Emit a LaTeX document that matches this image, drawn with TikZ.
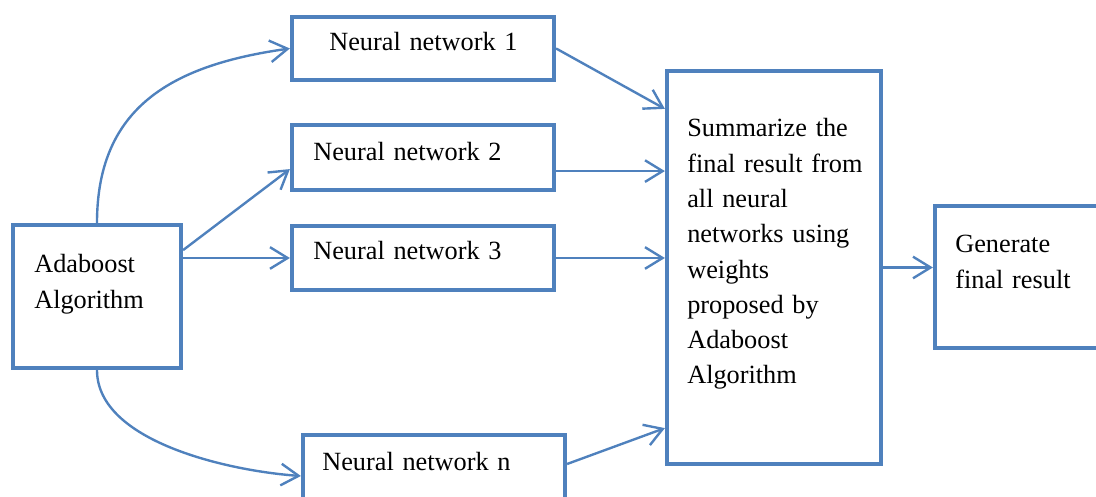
\documentclass[tikz,border=0pt]{standalone}
\usepackage{fontspec}
\setmainfont{Liberation Serif}
\usetikzlibrary{calc,arrows.meta}
\definecolor{wordblue}{RGB}{79,129,189}
\tikzset{
  blk/.style={draw=wordblue, line width=3pt},
  lbl/.style={anchor=base west, inner sep=0pt, text width=#1, align=left,
    font=\fontsize{18.7pt}{25.1pt}\selectfont},
  lbl/.default=6cm,
  arr/.style={draw=wordblue, line width=1.7pt, -{Straight Barb[length=4.4mm,width=5.4mm]}}
}

\begin{document}
\begin{tikzpicture}
		%%%%% START %%%%%
		\useasboundingbox (0,0) rectangle (27.4,12.425);
		\clip (0,0) rectangle (27.4,12.425);
		
		% boxes
		\node[blk, minimum width=4.2cm, minimum height=3.575cm] (ada) at (2.425,5.0125) {};
		\node[blk, minimum width=6.55cm, minimum height=1.575cm] (nn1) at (10.575,11.2125) {};
		\node[blk, minimum width=6.55cm, minimum height=1.625cm] (nn2) at (10.575,8.4875) {};
		\node[blk, minimum width=6.55cm, minimum height=1.6cm] (nn3) at (10.575,5.975) {};
		\node[blk, minimum width=6.55cm, minimum height=2.05cm] (nnn) at (10.85,0.525) {};
		\node[blk, minimum width=5.35cm, minimum height=9.825cm] (summ) at (19.35,5.7375) {};
		\node[blk, minimum width=4.5cm, minimum height=3.55cm] (gen) at (25.625,5.5) {};
		
		% texts
		\node[lbl=4cm] (adatxt) at (0.85,5.6) {Adaboost\\Algorithm};
		\node[lbl] (nn1txt) at (8.225,11.15) {Neural network 1};
		\node[lbl] (nn2txt) at (7.825,8.4) {Neural network 2};
		\node[lbl] (nn3txt) at (7.825,5.925) {Neural network 3};
		\node[lbl] (nnntxt) at (8.05,0.65) {Neural network n};
		\node[lbl=5cm] (summtxt) at (17.175,9.0) {Summarize the\\final result from\\all neural\\networks using\\weights\\proposed by\\Adaboost\\Algorithm};
		\node[lbl=4cm] (gentxt) at (23.875,6.1) {Generate\\final result};
		
		% arrows
		\draw[arr] (ada.north) to[out=90,in=188,looseness=1.15] (nn1.west);
		\draw[arr] ($(ada.east)+(0,1.16)$) -- ($(nn2.west)+(0,-0.29)$);
		\draw[arr] (ada.east |- nn3.west) -- (nn3.west);
		\draw[arr] (ada.south) to[out=-90,in=176,looseness=0.8] (nnn.west);
		
		\draw[arr] (nn1.east) -- ($(summ.north west)+(0,-1)$);
		\draw[arr] ($(nn2.east)+(0,-0.34)$) coordinate (p2) -- (summ.west |- p2);
		\draw[arr] (nn3.east) -- (summ.west |- nn3.east);
		\draw[arr] ($(nnn.east)+(0,0.3)$) -- ($(summ.south west)+(0,0.95)$);
		
		\draw[arr] (summ.east) -- (gen.west |- summ.east);
		%%%%% END %%%%%
\end{tikzpicture}
\end{document}
